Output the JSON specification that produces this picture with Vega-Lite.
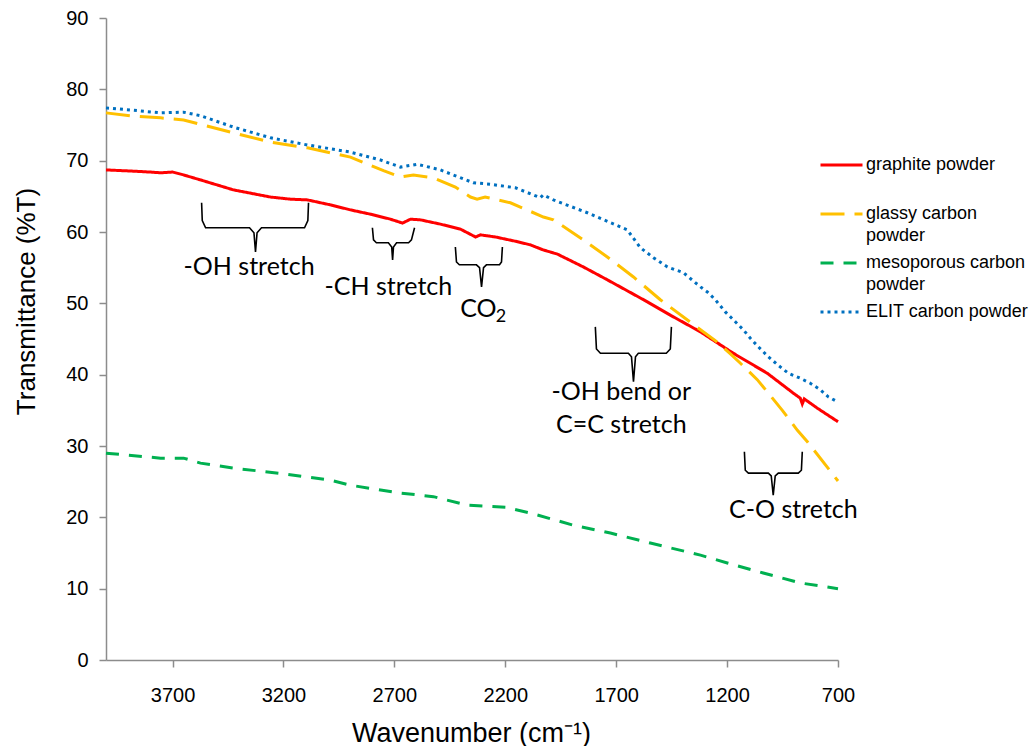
{
  "$schema": "https://vega.github.io/schema/vega-lite/v6.json",
  "width": 732,
  "height": 642,
  "autosize": {"type": "none"},
  "padding": {"left": 106, "top": 18, "right": 197, "bottom": 86},
  "background": "white",
  "config": {
    "view": {"stroke": null},
    "style": {"guide-label": {"lineHeight": 22}},
    "axis": {
      "grid": false,
      "domainColor": "#8c8c8c",
      "tickColor": "#8c8c8c",
      "domainWidth": 1.5,
      "tickWidth": 1.5,
      "tickSize": 7,
      "labelFont": "Liberation Sans",
      "titleFont": "Liberation Sans",
      "labelColor": "#000000",
      "titleColor": "#000000",
      "labelFontSize": 20,
      "titleFontSize": 26,
      "titleFontWeight": "normal"
    }
  },
  "datasets": {
    "spectra": [
      {"series": "graphite powder", "wavenumber": 4000, "transmittance": 68.7},
      {"series": "graphite powder", "wavenumber": 3889, "transmittance": 68.55},
      {"series": "graphite powder", "wavenumber": 3799, "transmittance": 68.4},
      {"series": "graphite powder", "wavenumber": 3754, "transmittance": 68.3},
      {"series": "graphite powder", "wavenumber": 3700, "transmittance": 68.4},
      {"series": "graphite powder", "wavenumber": 3650, "transmittance": 68.0},
      {"series": "graphite powder", "wavenumber": 3574, "transmittance": 67.3},
      {"series": "graphite powder", "wavenumber": 3425, "transmittance": 65.9},
      {"series": "graphite powder", "wavenumber": 3258, "transmittance": 64.9},
      {"series": "graphite powder", "wavenumber": 3168, "transmittance": 64.6},
      {"series": "graphite powder", "wavenumber": 3092, "transmittance": 64.5},
      {"series": "graphite powder", "wavenumber": 2988, "transmittance": 63.8},
      {"series": "graphite powder", "wavenumber": 2898, "transmittance": 63.1},
      {"series": "graphite powder", "wavenumber": 2808, "transmittance": 62.5},
      {"series": "graphite powder", "wavenumber": 2718, "transmittance": 61.8},
      {"series": "graphite powder", "wavenumber": 2663, "transmittance": 61.25},
      {"series": "graphite powder", "wavenumber": 2627, "transmittance": 61.8},
      {"series": "graphite powder", "wavenumber": 2582, "transmittance": 61.7},
      {"series": "graphite powder", "wavenumber": 2492, "transmittance": 61.1},
      {"series": "graphite powder", "wavenumber": 2402, "transmittance": 60.4},
      {"series": "graphite powder", "wavenumber": 2334, "transmittance": 59.3},
      {"series": "graphite powder", "wavenumber": 2312, "transmittance": 59.6},
      {"series": "graphite powder", "wavenumber": 2244, "transmittance": 59.3},
      {"series": "graphite powder", "wavenumber": 2154, "transmittance": 58.7},
      {"series": "graphite powder", "wavenumber": 2087, "transmittance": 58.2},
      {"series": "graphite powder", "wavenumber": 2030, "transmittance": 57.5},
      {"series": "graphite powder", "wavenumber": 1965, "transmittance": 56.9},
      {"series": "graphite powder", "wavenumber": 1848, "transmittance": 55.1},
      {"series": "graphite powder", "wavenumber": 1740, "transmittance": 53.3},
      {"series": "graphite powder", "wavenumber": 1559, "transmittance": 50.2},
      {"series": "graphite powder", "wavenumber": 1442, "transmittance": 48.1},
      {"series": "graphite powder", "wavenumber": 1320, "transmittance": 46.0},
      {"series": "graphite powder", "wavenumber": 1172, "transmittance": 43.0},
      {"series": "graphite powder", "wavenumber": 1019, "transmittance": 40.2},
      {"series": "graphite powder", "wavenumber": 901, "transmittance": 37.4},
      {"series": "graphite powder", "wavenumber": 870, "transmittance": 36.7},
      {"series": "graphite powder", "wavenumber": 861, "transmittance": 35.9},
      {"series": "graphite powder", "wavenumber": 852, "transmittance": 36.6},
      {"series": "graphite powder", "wavenumber": 793, "transmittance": 35.3},
      {"series": "graphite powder", "wavenumber": 700, "transmittance": 33.4},

      {"series": "glassy carbon powder", "wavenumber": 4000, "transmittance": 76.7},
      {"series": "glassy carbon powder", "wavenumber": 3889, "transmittance": 76.3},
      {"series": "glassy carbon powder", "wavenumber": 3754, "transmittance": 76.0},
      {"series": "glassy carbon powder", "wavenumber": 3650, "transmittance": 75.7},
      {"series": "glassy carbon powder", "wavenumber": 3574, "transmittance": 75.1},
      {"series": "glassy carbon powder", "wavenumber": 3425, "transmittance": 73.9},
      {"series": "glassy carbon powder", "wavenumber": 3258, "transmittance": 72.6},
      {"series": "glassy carbon powder", "wavenumber": 3092, "transmittance": 71.8},
      {"series": "glassy carbon powder", "wavenumber": 2898, "transmittance": 70.5},
      {"series": "glassy carbon powder", "wavenumber": 2749, "transmittance": 68.6},
      {"series": "glassy carbon powder", "wavenumber": 2672, "transmittance": 67.7},
      {"series": "glassy carbon powder", "wavenumber": 2614, "transmittance": 68.0},
      {"series": "glassy carbon powder", "wavenumber": 2524, "transmittance": 67.6},
      {"series": "glassy carbon powder", "wavenumber": 2425, "transmittance": 66.3},
      {"series": "glassy carbon powder", "wavenumber": 2357, "transmittance": 64.9},
      {"series": "glassy carbon powder", "wavenumber": 2327, "transmittance": 64.6},
      {"series": "glassy carbon powder", "wavenumber": 2291, "transmittance": 64.9},
      {"series": "glassy carbon powder", "wavenumber": 2177, "transmittance": 64.1},
      {"series": "glassy carbon powder", "wavenumber": 2132, "transmittance": 63.5},
      {"series": "glassy carbon powder", "wavenumber": 2028, "transmittance": 62.1},
      {"series": "glassy carbon powder", "wavenumber": 1983, "transmittance": 61.7},
      {"series": "glassy carbon powder", "wavenumber": 1848, "transmittance": 58.9},
      {"series": "glassy carbon powder", "wavenumber": 1740, "transmittance": 56.5},
      {"series": "glassy carbon powder", "wavenumber": 1622, "transmittance": 53.7},
      {"series": "glassy carbon powder", "wavenumber": 1501, "transmittance": 50.5},
      {"series": "glassy carbon powder", "wavenumber": 1320, "transmittance": 46.3},
      {"series": "glassy carbon powder", "wavenumber": 1250, "transmittance": 44.7},
      {"series": "glassy carbon powder", "wavenumber": 1185, "transmittance": 42.9},
      {"series": "glassy carbon powder", "wavenumber": 1140, "transmittance": 41.6},
      {"series": "glassy carbon powder", "wavenumber": 1064, "transmittance": 39.3},
      {"series": "glassy carbon powder", "wavenumber": 1027, "transmittance": 37.9},
      {"series": "glassy carbon powder", "wavenumber": 951, "transmittance": 35.0},
      {"series": "glassy carbon powder", "wavenumber": 883, "transmittance": 32.2},
      {"series": "glassy carbon powder", "wavenumber": 838, "transmittance": 30.6},
      {"series": "glassy carbon powder", "wavenumber": 700, "transmittance": 25.1},

      {"series": "mesoporous carbon powder", "wavenumber": 4000, "transmittance": 29.0},
      {"series": "mesoporous carbon powder", "wavenumber": 3754, "transmittance": 28.3},
      {"series": "mesoporous carbon powder", "wavenumber": 3650, "transmittance": 28.3},
      {"series": "mesoporous carbon powder", "wavenumber": 3574, "transmittance": 27.6},
      {"series": "mesoporous carbon powder", "wavenumber": 3425, "transmittance": 26.9},
      {"series": "mesoporous carbon powder", "wavenumber": 3200, "transmittance": 26.1},
      {"series": "mesoporous carbon powder", "wavenumber": 2988, "transmittance": 25.2},
      {"series": "mesoporous carbon powder", "wavenumber": 2898, "transmittance": 24.5},
      {"series": "mesoporous carbon powder", "wavenumber": 2672, "transmittance": 23.4},
      {"series": "mesoporous carbon powder", "wavenumber": 2524, "transmittance": 22.9},
      {"series": "mesoporous carbon powder", "wavenumber": 2371, "transmittance": 21.7},
      {"series": "mesoporous carbon powder", "wavenumber": 2199, "transmittance": 21.4},
      {"series": "mesoporous carbon powder", "wavenumber": 2087, "transmittance": 20.6},
      {"series": "mesoporous carbon powder", "wavenumber": 1893, "transmittance": 18.9},
      {"series": "mesoporous carbon powder", "wavenumber": 1726, "transmittance": 17.8},
      {"series": "mesoporous carbon powder", "wavenumber": 1546, "transmittance": 16.4},
      {"series": "mesoporous carbon powder", "wavenumber": 1320, "transmittance": 14.7},
      {"series": "mesoporous carbon powder", "wavenumber": 1199, "transmittance": 13.6},
      {"series": "mesoporous carbon powder", "wavenumber": 1037, "transmittance": 12.2},
      {"series": "mesoporous carbon powder", "wavenumber": 870, "transmittance": 10.8},
      {"series": "mesoporous carbon powder", "wavenumber": 700, "transmittance": 10.0},

      {"series": "ELIT carbon powder", "wavenumber": 4000, "transmittance": 77.4},
      {"series": "ELIT carbon powder", "wavenumber": 3889, "transmittance": 77.1},
      {"series": "ELIT carbon powder", "wavenumber": 3754, "transmittance": 76.7},
      {"series": "ELIT carbon powder", "wavenumber": 3650, "transmittance": 76.8},
      {"series": "ELIT carbon powder", "wavenumber": 3574, "transmittance": 76.3},
      {"series": "ELIT carbon powder", "wavenumber": 3425, "transmittance": 74.7},
      {"series": "ELIT carbon powder", "wavenumber": 3258, "transmittance": 73.2},
      {"series": "ELIT carbon powder", "wavenumber": 3092, "transmittance": 72.2},
      {"series": "ELIT carbon powder", "wavenumber": 2898, "transmittance": 71.2},
      {"series": "ELIT carbon powder", "wavenumber": 2763, "transmittance": 70.1},
      {"series": "ELIT carbon powder", "wavenumber": 2672, "transmittance": 69.1},
      {"series": "ELIT carbon powder", "wavenumber": 2597, "transmittance": 69.5},
      {"series": "ELIT carbon powder", "wavenumber": 2492, "transmittance": 68.7},
      {"series": "ELIT carbon powder", "wavenumber": 2344, "transmittance": 66.9},
      {"series": "ELIT carbon powder", "wavenumber": 2267, "transmittance": 66.7},
      {"series": "ELIT carbon powder", "wavenumber": 2154, "transmittance": 66.2},
      {"series": "ELIT carbon powder", "wavenumber": 2042, "transmittance": 64.8},
      {"series": "ELIT carbon powder", "wavenumber": 2029, "transmittance": 65.2},
      {"series": "ELIT carbon powder", "wavenumber": 1983, "transmittance": 64.5},
      {"series": "ELIT carbon powder", "wavenumber": 1830, "transmittance": 62.7},
      {"series": "ELIT carbon powder", "wavenumber": 1650, "transmittance": 60.3},
      {"series": "ELIT carbon powder", "wavenumber": 1591, "transmittance": 57.8},
      {"series": "ELIT carbon powder", "wavenumber": 1532, "transmittance": 56.4},
      {"series": "ELIT carbon powder", "wavenumber": 1469, "transmittance": 55.1},
      {"series": "ELIT carbon powder", "wavenumber": 1397, "transmittance": 54.3},
      {"series": "ELIT carbon powder", "wavenumber": 1320, "transmittance": 52.3},
      {"series": "ELIT carbon powder", "wavenumber": 1289, "transmittance": 51.6},
      {"series": "ELIT carbon powder", "wavenumber": 1253, "transmittance": 50.5},
      {"series": "ELIT carbon powder", "wavenumber": 1208, "transmittance": 48.8},
      {"series": "ELIT carbon powder", "wavenumber": 1172, "transmittance": 47.7},
      {"series": "ELIT carbon powder", "wavenumber": 1127, "transmittance": 46.3},
      {"series": "ELIT carbon powder", "wavenumber": 1095, "transmittance": 45.1},
      {"series": "ELIT carbon powder", "wavenumber": 1059, "transmittance": 43.9},
      {"series": "ELIT carbon powder", "wavenumber": 1014, "transmittance": 42.5},
      {"series": "ELIT carbon powder", "wavenumber": 973, "transmittance": 41.4},
      {"series": "ELIT carbon powder", "wavenumber": 924, "transmittance": 40.2},
      {"series": "ELIT carbon powder", "wavenumber": 870, "transmittance": 39.5},
      {"series": "ELIT carbon powder", "wavenumber": 825, "transmittance": 38.8},
      {"series": "ELIT carbon powder", "wavenumber": 780, "transmittance": 37.9},
      {"series": "ELIT carbon powder", "wavenumber": 744, "transmittance": 36.9},
      {"series": "ELIT carbon powder", "wavenumber": 703, "transmittance": 36.2}
    ],
    "braces": [
      {"brace": "OH", "i": 1, "wavenumber": 3569, "transmittance": 64.1},
      {"brace": "OH", "i": 2, "wavenumber": 3566, "transmittance": 61.6},
      {"brace": "OH", "i": 3, "wavenumber": 3551, "transmittance": 60.6},
      {"brace": "OH", "i": 4, "wavenumber": 3353, "transmittance": 60.6},
      {"brace": "OH", "i": 5, "wavenumber": 3333, "transmittance": 59.9},
      {"brace": "OH", "i": 6, "wavenumber": 3326, "transmittance": 57.2},
      {"brace": "OH", "i": 7, "wavenumber": 3319, "transmittance": 59.9},
      {"brace": "OH", "i": 8, "wavenumber": 3299, "transmittance": 60.6},
      {"brace": "OH", "i": 9, "wavenumber": 3105, "transmittance": 60.6},
      {"brace": "OH", "i": 10, "wavenumber": 3090, "transmittance": 61.6},
      {"brace": "OH", "i": 11, "wavenumber": 3087, "transmittance": 64.1},
      {"brace": "CH", "i": 1, "wavenumber": 2799, "transmittance": 60.6},
      {"brace": "CH", "i": 2, "wavenumber": 2794, "transmittance": 58.9},
      {"brace": "CH", "i": 3, "wavenumber": 2781, "transmittance": 58.5},
      {"brace": "CH", "i": 4, "wavenumber": 2727, "transmittance": 58.5},
      {"brace": "CH", "i": 5, "wavenumber": 2712, "transmittance": 57.9},
      {"brace": "CH", "i": 6, "wavenumber": 2708, "transmittance": 56.1},
      {"brace": "CH", "i": 7, "wavenumber": 2704, "transmittance": 57.9},
      {"brace": "CH", "i": 8, "wavenumber": 2690, "transmittance": 58.5},
      {"brace": "CH", "i": 9, "wavenumber": 2636, "transmittance": 58.5},
      {"brace": "CH", "i": 10, "wavenumber": 2623, "transmittance": 58.9},
      {"brace": "CH", "i": 11, "wavenumber": 2609, "transmittance": 60.6},
      {"brace": "CO2", "i": 1, "wavenumber": 2425, "transmittance": 57.9},
      {"brace": "CO2", "i": 2, "wavenumber": 2420, "transmittance": 55.8},
      {"brace": "CO2", "i": 3, "wavenumber": 2407, "transmittance": 55.4},
      {"brace": "CO2", "i": 4, "wavenumber": 2330, "transmittance": 55.4},
      {"brace": "CO2", "i": 5, "wavenumber": 2316, "transmittance": 55.0},
      {"brace": "CO2", "i": 6, "wavenumber": 2307, "transmittance": 52.3},
      {"brace": "CO2", "i": 7, "wavenumber": 2298, "transmittance": 55.0},
      {"brace": "CO2", "i": 8, "wavenumber": 2285, "transmittance": 55.4},
      {"brace": "CO2", "i": 9, "wavenumber": 2226, "transmittance": 55.4},
      {"brace": "CO2", "i": 10, "wavenumber": 2217, "transmittance": 55.8},
      {"brace": "CO2", "i": 11, "wavenumber": 2213, "transmittance": 57.9},
      {"brace": "OHbend", "i": 1, "wavenumber": 1794, "transmittance": 46.7},
      {"brace": "OHbend", "i": 2, "wavenumber": 1789, "transmittance": 43.6},
      {"brace": "OHbend", "i": 3, "wavenumber": 1771, "transmittance": 43.0},
      {"brace": "OHbend", "i": 4, "wavenumber": 1645, "transmittance": 43.0},
      {"brace": "OHbend", "i": 5, "wavenumber": 1631, "transmittance": 42.5},
      {"brace": "OHbend", "i": 6, "wavenumber": 1622, "transmittance": 39.0},
      {"brace": "OHbend", "i": 7, "wavenumber": 1613, "transmittance": 42.5},
      {"brace": "OHbend", "i": 8, "wavenumber": 1600, "transmittance": 43.0},
      {"brace": "OHbend", "i": 9, "wavenumber": 1474, "transmittance": 43.0},
      {"brace": "OHbend", "i": 10, "wavenumber": 1456, "transmittance": 43.6},
      {"brace": "OHbend", "i": 11, "wavenumber": 1451, "transmittance": 46.7},
      {"brace": "CO", "i": 1, "wavenumber": 1122, "transmittance": 29.2},
      {"brace": "CO", "i": 2, "wavenumber": 1118, "transmittance": 26.6},
      {"brace": "CO", "i": 3, "wavenumber": 1104, "transmittance": 26.2},
      {"brace": "CO", "i": 4, "wavenumber": 1014, "transmittance": 26.2},
      {"brace": "CO", "i": 5, "wavenumber": 1001, "transmittance": 25.8},
      {"brace": "CO", "i": 6, "wavenumber": 992, "transmittance": 23.1},
      {"brace": "CO", "i": 7, "wavenumber": 983, "transmittance": 25.8},
      {"brace": "CO", "i": 8, "wavenumber": 969, "transmittance": 26.2},
      {"brace": "CO", "i": 9, "wavenumber": 879, "transmittance": 26.2},
      {"brace": "CO", "i": 10, "wavenumber": 865, "transmittance": 26.6},
      {"brace": "CO", "i": 11, "wavenumber": 861, "transmittance": 29.2}
    ],
    "notes": [
      {"label": "-OH stretch", "wavenumber": 3355, "transmittance": 53.97},
      {"label": "-CH stretch", "wavenumber": 2727, "transmittance": 51.17},
      {"label": "CO", "wavenumber": 2321, "transmittance": 48.09},
      {"label": "-OH bend or", "wavenumber": 1677, "transmittance": 36.45},
      {"label": "C=C stretch", "wavenumber": 1677, "transmittance": 31.82},
      {"label": "C-O stretch", "wavenumber": 901, "transmittance": 19.91}
    ],
    "subscripts": [
      {"label": "2", "wavenumber": 2219, "transmittance": 47.39}
    ]
  },
  "layer": [
    {
      "data": {"name": "spectra"},
      "mark": {"type": "line", "strokeWidth": 3, "strokeCap": "butt"},
      "encoding": {
        "x": {
          "field": "wavenumber",
          "type": "quantitative",
          "scale": {"domain": [700, 4000], "reverse": true, "nice": false, "zero": false},
          "axis": {
            "values": [3700, 3200, 2700, 2200, 1700, 1200, 700],
            "format": "d",
            "title": "Wavenumber (cm⁻¹)",
            "titleFontSize": 27,
            "labelFlush": false,
            "labelOverlap": false,
            "labelBaseline": "alphabetic",
            "labelPadding": 34,
            "titleX": 365,
            "titleY": 81,
            "titleBaseline": "alphabetic"
          }
        },
        "y": {
          "field": "transmittance",
          "type": "quantitative",
          "scale": {"domain": [0, 90], "nice": false},
          "axis": {
            "values": [0, 10, 20, 30, 40, 50, 60, 70, 80, 90],
            "title": "Transmittance (%T)",
            "labelPadding": 11,
            "titleX": -72,
            "titleY": 283,
            "titleAngle": -90,
            "titleBaseline": "alphabetic"
          }
        },
        "color": {
          "field": "series",
          "type": "nominal",
          "scale": {
            "domain": ["graphite powder", "glassy carbon powder", "mesoporous carbon powder", "ELIT carbon powder"],
            "range": ["#ff0000", "#ffc000", "#00b050", "#0070c0"]
          },
          "legend": {
            "orient": "none",
            "legendX": 713,
            "legendY": 136,
            "title": null,
            "symbolType": "stroke",
            "symbolSize": 1764,
            "symbolStrokeWidth": 3,
            "clipHeight": 22,
            "labelFont": "Liberation Sans",
            "labelFontSize": 18,
            "labelColor": "#000000",
            "labelBaseline": "middle",
            "labelLimit": 400,
            "labelOffset": 2,
            "gridAlign": "all",
            "rowPadding": 7,
            "labelExpr": "datum.label == 'glassy carbon powder' ? ['glassy carbon', 'powder'] : datum.label == 'mesoporous carbon powder' ? ['mesoporous carbon', 'powder'] : datum.label"
          }
        },
        "strokeDash": {
          "field": "series",
          "type": "nominal",
          "scale": {
            "domain": ["graphite powder", "glassy carbon powder", "mesoporous carbon powder", "ELIT carbon powder"],
            "range": [[1, 0], [24, 10], [13, 10], [3, 4]]
          },
          "legend": {
            "orient": "none",
            "legendX": 713,
            "legendY": 136,
            "title": null,
            "symbolType": "stroke",
            "symbolSize": 1764,
            "symbolStrokeWidth": 3,
            "clipHeight": 22,
            "labelFont": "Liberation Sans",
            "labelFontSize": 18,
            "labelColor": "#000000",
            "labelBaseline": "middle",
            "labelLimit": 400,
            "labelOffset": 2,
            "gridAlign": "all",
            "rowPadding": 7,
            "labelExpr": "datum.label == 'glassy carbon powder' ? ['glassy carbon', 'powder'] : datum.label == 'mesoporous carbon powder' ? ['mesoporous carbon', 'powder'] : datum.label"
          }
        }
      }
    },
    {
      "data": {"name": "braces"},
      "mark": {"type": "line", "color": "#000000", "strokeWidth": 1.6},
      "encoding": {
        "x": {"field": "wavenumber", "type": "quantitative"},
        "y": {"field": "transmittance", "type": "quantitative"},
        "detail": {"field": "brace"},
        "order": {"field": "i", "type": "quantitative"}
      }
    },
    {
      "data": {"name": "notes"},
      "mark": {"type": "text", "font": "Lato", "fontSize": 25, "align": "center", "baseline": "alphabetic", "color": "#000000"},
      "encoding": {
        "x": {"field": "wavenumber", "type": "quantitative"},
        "y": {"field": "transmittance", "type": "quantitative"},
        "text": {"field": "label"}
      }
    },
    {
      "data": {"name": "subscripts"},
      "mark": {"type": "text", "font": "Lato", "fontSize": 18, "align": "center", "baseline": "alphabetic", "color": "#000000"},
      "encoding": {
        "x": {"field": "wavenumber", "type": "quantitative"},
        "y": {"field": "transmittance", "type": "quantitative"},
        "text": {"field": "label"}
      }
    }
  ]
}
